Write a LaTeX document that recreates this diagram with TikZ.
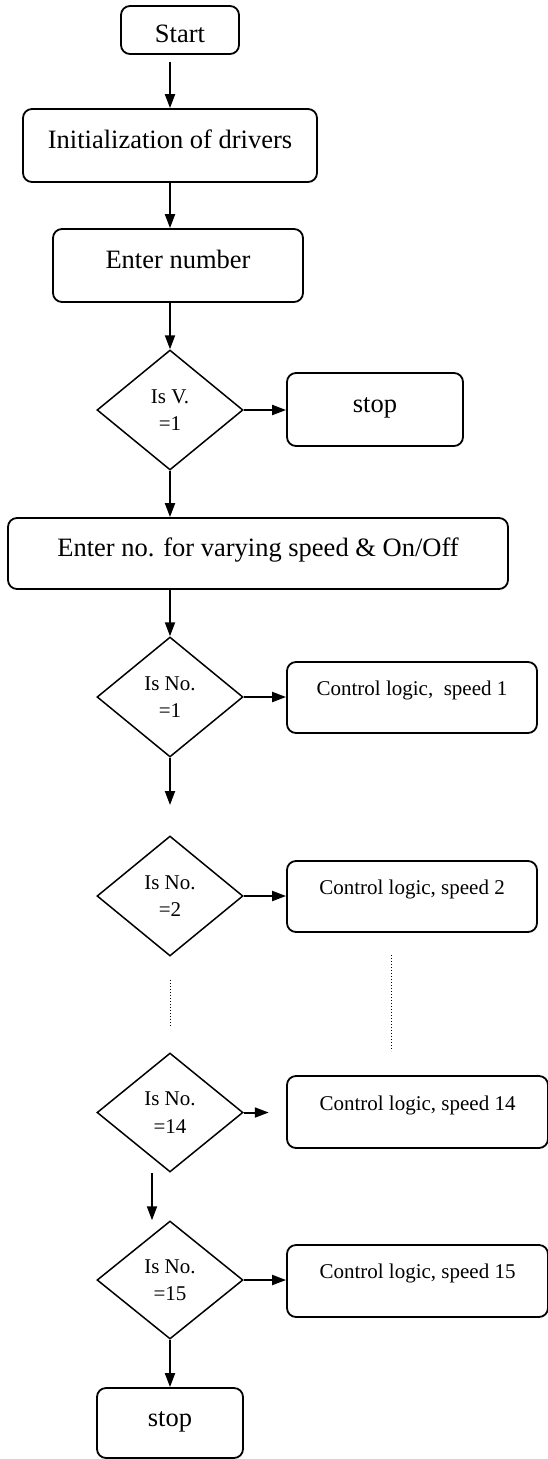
\documentclass[tikz,border=0pt]{standalone}
\usepackage{fontspec}
\setmainfont{Liberation Serif}
\usetikzlibrary{arrows.meta,shapes.geometric}
\begin{document}
\begin{tikzpicture}[x=1pt,y=-1pt,
  box/.style={draw, rounded corners=9pt, line width=1.8pt, inner sep=0pt,
    font=\fontsize{26.5}{30}\selectfont, text height=18pt, text depth=13pt},
  spd/.style={box, font=\fontsize{21}{25}\selectfont, text height=14pt, text depth=18pt},
  dec/.style={draw, diamond, line width=1.5pt, inner sep=0pt, minimum width=146pt,
    minimum height=120pt, align=center, font=\fontsize{21}{27.5}\selectfont},
  arr/.style={line width=2pt, -{Triangle[length=14pt,width=10pt]}},
  dots/.style={line width=1pt, dash pattern=on 1pt off 2pt}]
\useasboundingbox (0,0) rectangle (547,1459);

% nodes
\node[box, minimum width=118pt, minimum height=48pt, text height=25.4pt, text depth=0pt] (start) at (180,30) {Start};
\node[box, minimum width=294pt, minimum height=73pt] (init) at (170,145.5) {Initialization of drivers};
\node[box, minimum width=250pt, minimum height=73pt] (enter) at (178,265.5) {Enter number};
\node[dec] (d1) at (170,410) {Is V.\\=1};
\node[box, minimum width=176pt, minimum height=73pt] (stopa) at (375,409.5) {stop};
\node[box, minimum width=500pt, minimum height=71pt, text depth=11.6pt] (big) at (258,553.5) {Enter no. for varying speed \& On/Off};
\node[dec] (d2) at (170,697) {Is No.\\=1};
\node[spd, minimum width=250pt, minimum height=71pt] (s1) at (412,697.5) {Control logic,\ \ speed 1};
\coordinate (c1) at (170,805);
\node[dec] (d3) at (170,896) {Is No.\\=2};
\node[spd, minimum width=250pt, minimum height=71pt] (s2) at (412,896.5) {Control logic, speed 2};
\coordinate (l1) at (170,980);
\coordinate (l2) at (170,1028);
\coordinate (r1) at (391,955);
\coordinate (r2) at (391,1051);
\node[dec, minimum height=119pt] (d4) at (170,1112.5) {Is No.\\=14};
\node[spd, minimum width=261pt, minimum height=72pt, text depth=17pt] (s14) at (417.5,1112) {Control logic, speed 14};
\coordinate (c14) at ([xshift=25pt]d4.east);
\node[dec, minimum height=118pt] (d5) at (170,1280) {Is No.\\=15};
\node[spd, minimum width=261pt, minimum height=72pt, text depth=19pt] (s15) at (417.5,1281) {Control logic, speed 15};
\node[box, minimum width=146pt, minimum height=70pt, text depth=10.6pt] (stopb) at (170,1423) {stop};

% connectors
\coordinate (a0) at ([yshift=-7pt]start.south);
\draw[arr] (a0 -| init.north) -- (init.north);
\draw[arr] (init.south) -- (init.south |- enter.north);
\draw[arr] (enter.south -| d1.north) -- (d1.north);
\draw[arr] (d1.east) -- (d1.east -| stopa.west);
\draw[arr] (d1.south) -- (d1.south |- big.north);
\draw[arr] (big.south -| d2.north) -- (d2.north);
\draw[arr] (d2.east) -- (d2.east -| s1.west);
\draw[arr] (d2.south) -- (c1);
\draw[arr] (d3.east) -- (d3.east -| s2.west);
\draw[dots] (l1) -- (l2);
\draw[dots] (r1) -- (r2);
\draw[arr] (d4.east) -- (c14);
\draw[arr] ([xshift=-18pt]d4.south) -- ([xshift=-18pt]d5.north);
\draw[arr] (d5.east) -- (d5.east -| s15.west);
\draw[arr] (d5.south) -- (stopb.north);
\end{tikzpicture}
\end{document}
